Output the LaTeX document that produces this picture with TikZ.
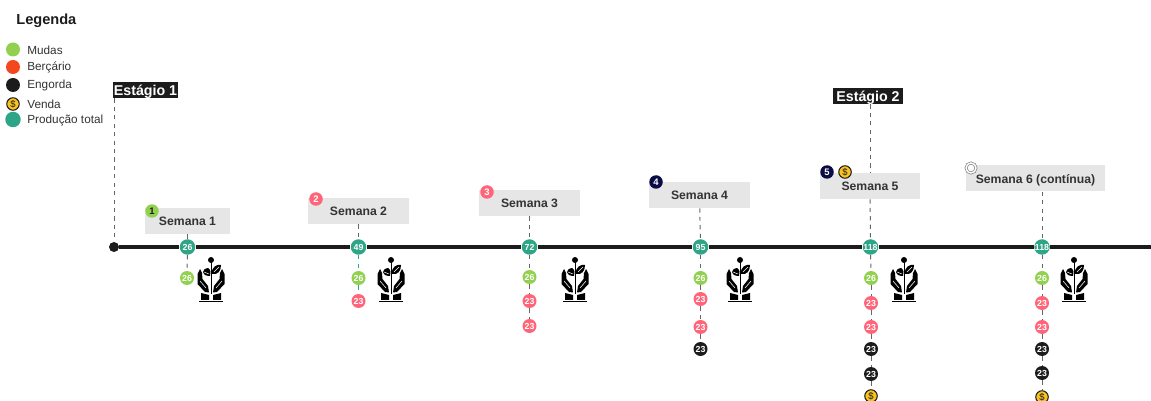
\documentclass[tikz,border=0pt]{standalone}
\usepackage{fontspec}
\setmainfont{Liberation Sans}
\definecolor{verde}{HTML}{92D050}
\definecolor{rosa}{HTML}{FF6478}
\definecolor{laranja}{HTML}{F4471E}
\definecolor{preto}{HTML}{1C1C1C}
\definecolor{marinho}{HTML}{0B0B45}
\definecolor{ouro}{HTML}{F9C31F}
\definecolor{teal}{HTML}{2EA587}
\definecolor{cinza}{HTML}{E6E6E6}
\definecolor{texto}{HTML}{333333}
\tikzset{
    dot/.style={circle,inner sep=0pt,minimum size=0.28cm,text=white,font=\bfseries\fontsize{5}{5}\selectfont},
    badge/.style={dot,minimum size=0.27cm,font=\bfseries\fontsize{5.4}{5}\selectfont},
    mudas/.style={dot,fill=verde},
    bercario/.style={dot,fill=rosa},
    engorda/.style={dot,fill=preto},
    venda/.style={dot,fill=ouro,draw=preto,line width=0.6pt,minimum size=0.25cm,text=preto,font=\fontsize{5.4}{5}\selectfont},
    total/.style={dot,fill=teal,minimum size=0.31cm},
    semana/.style={fill=cinza,inner sep=0pt,text=texto,minimum height=0.52cm,text height=5.6pt,text depth=0pt,font=\bfseries\fontsize{6.95}{8}\selectfont},
    estagio/.style={fill=preto,inner sep=0pt,text=white,minimum height=0.32cm,text height=6.6pt,text depth=0pt,font=\bfseries\fontsize{8.1}{9}\selectfont},
    legenda/.style={anchor=west,inner sep=0pt,text=texto,font=\fontsize{6.7}{8}\selectfont},
    tracejado/.style={draw=texto!75,line width=0.55pt,dash pattern=on 2.4pt off 2.4pt},
    linha/.style={draw=preto,line width=1.8pt},
    plantio/.pic={
        \fill[black] (0,-20) circle (3);
        \draw[black,line width=0.55pt] (0,-18) -- (0,14);
        % folhas
        \fill[black] (-1,-4) .. controls (-10,-4) and (-10,-11) .. (-3,-12) .. controls (0,-10) and (0,-7) .. (-1,-4);
        \fill[black] (1,-6) .. controls (0,-13) and (6,-16) .. (10,-15) .. controls (10,-9) and (7,-5) .. (1,-6);
        \draw[white,line width=0.3pt] (-7,-8) -- (-2,-6);
        \draw[white,line width=0.3pt] (3,-8) -- (8,-13);
        % maos
        \fill[black] (-13.5,-6) -- (-11,-11) -- (-9,-7) -- (-8.5,-1) -- (-3,6) -- (-2,12.5) -- (-6,12) -- (-13.5,4) -- cycle;
        \fill[black] (13.5,-6) -- (11,-11) -- (9,-7) -- (8.5,-1) -- (3,6) -- (2,12.5) -- (6,12) -- (13.5,4) -- cycle;
        \draw[white,line width=0.3pt] (-11,1) -- (-5,8);
        \draw[white,line width=0.3pt] (11,1) -- (5,8);
        \fill[black] (-10,13) -- (-2,15) -- (-2,20) -- (-10,20) -- cycle;
        \fill[black] (10,13) -- (2,15) -- (2,20) -- (10,20) -- cycle;
        \draw[black,line width=0.4pt] (-12,21.5) -- (12,21.5);
    }
}

\begin{document}
\begin{tikzpicture}[x=0.02cm,y=-0.02cm]
    \useasboundingbox (0,0) rectangle (1151,401);

    % legenda
    \node[anchor=west,inner sep=0pt,text=preto,font=\bfseries\fontsize{8.3}{10}\selectfont] (leg) at (16,21) {Legenda};
    \node[mudas] (legm) at (13,49.5) {};
    \node[dot,fill=laranja] (legb) at (13,67) {};
    \node[engorda] (lege) at (13,85) {};
    \node[venda] (legv) at (13,104) {\$};
    \node[total] (legt) at (13,119.5) {};
    \node[legenda] (txtm) at (27,50.5) {Mudas};
    \node[legenda] (txtb) at (27,67.5) {Berçário};
    \node[legenda] (txte) at (27,85.5) {Engorda};
    \node[legenda] (txtv) at (27,104.5) {Venda};
    \node[legenda] (txtt) at (27,120.5) {Produção total};

    % linha do tempo
    \node[circle,fill=preto,inner sep=0pt,minimum size=0.2cm] (inicio) at (114,247) {};
    \node[total] (tot1) at (187.5,247) {26};
    \node[total] (tot2) at (358.5,247) {49};
    \node[total] (tot3) at (529.5,247) {72};
    \node[total] (tot4) at (700.5,247) {95};
    \node[total] (tot5) at (870.5,247) {118};
    \node[total] (tot6) at (1042,247) {118};
    \coordinate (fim) at (1151,247);

    \draw[linha] (inicio) -- (tot1);
    \draw[linha] (tot1) -- (tot2);
    \draw[linha] (tot2) -- (tot3);
    \draw[linha] (tot3) -- (tot4);
    \draw[linha] (tot4) -- (tot5);
    \draw[linha] (tot5) -- (tot6);
    \draw[linha] (tot6) -- (fim);

    % estagios
    \node[estagio,minimum width=1.3cm] (est1) at (145.5,90) {Estágio 1};
    \node[estagio,minimum width=1.4cm] (est2) at (868,96) {Estágio 2};

    % semanas
    \node[semana,minimum width=1.7cm] (sem1) at (187.5,221) {Semana 1};
    \node[semana,minimum width=2.02cm] (sem2) at (358.5,211) {Semana 2};
    \node[semana,minimum width=2.02cm] (sem3) at (529.5,203) {Semana 3};
    \node[semana,minimum width=2.02cm] (sem4) at (699.5,195) {Semana 4};
    \node[semana,minimum width=2cm] (sem5) at (870,186) {Semana 5};
    \node[semana,minimum width=2.78cm] (sem6) at (1035.5,178.5) {Semana 6 (contínua)};

    \draw[tracejado] (inicio |- est1.south) -- (inicio);
    \draw[tracejado] (sem5.north |- est2.south) -- (sem5.north);
    \draw[tracejado] (sem1) -- (tot1);
    \draw[tracejado] (sem2) -- (tot2);
    \draw[tracejado] (sem3) -- (tot3);
    \draw[tracejado] (sem4) -- (tot4);
    \draw[tracejado] (sem5) -- (tot5);
    \draw[tracejado] (tot6 |- sem6.south) -- (tot6);

    % marcas das semanas
    \node[badge,fill=verde,text=preto] (num1) at (152,211) {1};
    \node[badge,fill=rosa] (num2) at (316,199) {2};
    \node[badge,fill=rosa] (num3) at (487,192) {3};
    \node[badge,fill=marinho] (num4) at (656,182) {4};
    \node[badge,fill=marinho] (num5) at (827,172) {5};
    \node[venda] (coin5) at (845,172) {\$};
    \node[circle,draw=gray,fill=white,double=white,double distance=0.8pt,line width=0.4pt,inner sep=0pt,minimum size=0.2cm] (num6) at (971,168) {};

    % semana 1
    \node[mudas] (a1) at (187,278) {26};
    \draw[tracejado] (tot1) -- (a1);

    % semana 2
    \node[mudas] (b1) at (358.5,278) {26};
    \node[bercario] (b2) at (358.5,301) {23};
    \draw[tracejado,draw=teal] (tot2) -- (b1);
    \draw[tracejado,draw=teal] (b1) -- (b2);

    % semana 3
    \node[mudas] (c1) at (529.5,277) {26};
    \node[bercario] (c2) at (529.5,301) {23};
    \node[bercario] (c3) at (529.5,326) {23};
    \draw[tracejado] (tot3) -- (c1);
    \draw[tracejado] (c1) -- (c2);
    \draw[tracejado] (c2) -- (c3);

    % semana 4
    \node[mudas] (d1) at (700.5,278) {26};
    \node[bercario] (d2) at (700.5,299) {23};
    \node[bercario] (d3) at (700.5,327) {23};
    \node[engorda] (d4) at (700.5,349) {23};
    \draw[tracejado] (tot4) -- (d1);
    \draw[tracejado] (d1) -- (d2);
    \draw[tracejado] (d2) -- (d3);
    \draw[tracejado] (d3) -- (d4);

    % semana 5
    \node[mudas] (e1) at (871,278) {26};
    \node[bercario] (e2) at (871,303) {23};
    \node[bercario] (e3) at (871,327) {23};
    \node[engorda] (e4) at (871,349) {23};
    \node[engorda] (e5) at (871,374) {23};
    \node[venda] (e6) at (871,396) {\$};
    \draw[tracejado] (tot5) -- (e1);
    \draw[tracejado] (e1) -- (e2);
    \draw[tracejado] (e2) -- (e3);
    \draw[tracejado] (e3) -- (e4);
    \draw[tracejado] (e4) -- (e5);
    \draw[tracejado] (e5) -- (e6);

    % semana 6
    \node[mudas] (f1) at (1042,278) {26};
    \node[bercario] (f2) at (1042,303) {23};
    \node[bercario] (f3) at (1042,327) {23};
    \node[engorda] (f4) at (1042,349) {23};
    \node[engorda] (f5) at (1042,373) {23};
    \node[venda] (f6) at (1042,397) {\$};
    \draw[tracejado] (tot6) -- (f1);
    \draw[tracejado] (f1) -- (f2);
    \draw[tracejado] (f2) -- (f3);
    \draw[tracejado] (f3) -- (f4);
    \draw[tracejado] (f4) -- (f5);
    \draw[tracejado] (f5) -- (f6);

    % plantas
    \pic at (211,280) {plantio};
    \pic at (391,280) {plantio};
    \pic at (575,280) {plantio};
    \pic at (740,280) {plantio};
    \pic at (904,280) {plantio};
    \pic at (1074,280) {plantio};
\end{tikzpicture}
\end{document}
